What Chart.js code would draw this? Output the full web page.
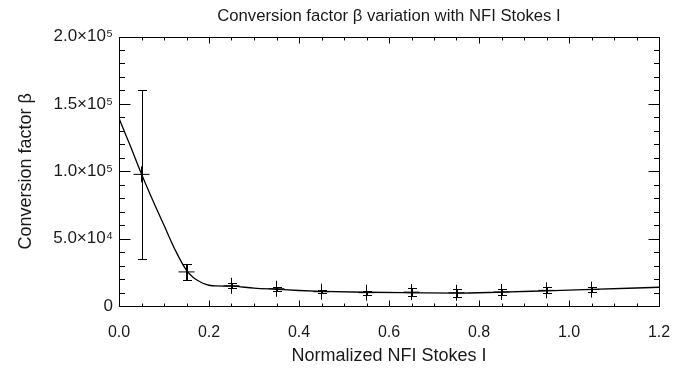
<!DOCTYPE html>
<html>
<head>
<meta charset="utf-8">
<script src="https://cdn.jsdelivr.net/npm/chart.js@4.4.1/dist/chart.umd.min.js"></script>
<style>
html, body { margin: 0; padding: 0; background: #fff; }
</style>
</head>
<body>
<canvas id="myChart" width="699" height="368"></canvas>
<script>
// measured points (normalized NFI Stokes I, beta, error)
var xPoints = [0.05, 0.15, 0.25, 0.35, 0.45, 0.55, 0.65, 0.75, 0.85, 0.95, 1.05];
var betaValues = [97700, 25300, 15000, 12800, 10600, 9900, 10300, 9800, 10400, 11600, 12200];
var betaErrors = [62700, 5950, 1860, 1500, 1200, 1500, 2900, 2900, 2200, 2200, 2100];

// fitted curve
var curveX = [0.0, 0.025, 0.05, 0.075, 0.1, 0.125, 0.15, 0.165, 0.18, 0.19, 0.2, 0.215, 0.25, 0.3, 0.35, 0.4, 0.45, 0.55, 0.65, 0.75, 0.85, 0.95, 1.05, 1.2];
var curveY = [139300, 119000, 98000, 78500, 60000, 41500, 26500, 21200, 18000, 16400, 15400, 14900, 14700, 13300, 12400, 11500, 10900, 10200, 9800, 9500, 10300, 11300, 12300, 13900];

var xMajorTicks = [0.0, 0.2, 0.4, 0.6, 0.8, 1.0, 1.2];
var yMajorTicks = [0, 50000, 100000, 150000, 200000];

var font = "'Liberation Sans', Arial, Helvetica, sans-serif";
var ink = '#1a1a1a';
var sup = ['\u2070','\u00b9','\u00b2','\u00b3','\u2074','\u2075','\u2076','\u2077','\u2078','\u2079'];

function isMajor(v, list){
    for (var i = 0; i < list.length; i++) {
        if (Math.abs(v - list[i]) < 1e-6 * Math.max(1, Math.abs(list[i]))) return true;
    }
    return false;
}

function sciLabel(v){
    if (v === 0) return '0';
    var e = Math.floor(Math.log10(v) + 1e-9);
    var m = v / Math.pow(10, e);
    return m.toFixed(1) + '\u00d710' + sup[e];
}

var points = xPoints.map(function(x, i){ return {x: x, y: betaValues[i]}; });
var curve = curveX.map(function(x, i){ return {x: x, y: curveY[i]}; });

var capHalf = 4.5;

var errorBars = {
    id: 'errorBars',
    afterDatasetsDraw: function(chart){
        var xs = chart.scales.x, ys = chart.scales.y, c = chart.ctx;
        c.save();
        c.strokeStyle = '#000';
        c.lineWidth = 1;
        xPoints.forEach(function(v, i){
            var px = Math.round(xs.getPixelForValue(v)) + 0.5;
            var top = Math.round(ys.getPixelForValue(betaValues[i] + betaErrors[i])) + 0.5;
            var bot = Math.round(ys.getPixelForValue(betaValues[i] - betaErrors[i])) + 0.5;
            c.beginPath();
            c.moveTo(px, top); c.lineTo(px, bot);
            c.moveTo(px - capHalf, top); c.lineTo(px + capHalf, top);
            c.moveTo(px - capHalf, bot); c.lineTo(px + capHalf, bot);
            c.stroke();
        });
        c.restore();
    }
};

// box round the plot with inward ticks on all four sides
var frame = {
    id: 'frame',
    afterDraw: function(chart){
        var a = chart.chartArea, c = chart.ctx;
        var l = Math.round(a.left) + 0.5, r = Math.round(a.right) + 0.5;
        var t = Math.round(a.top) + 0.5, b = Math.round(a.bottom) + 0.5;
        c.save();
        c.strokeStyle = '#000';
        c.lineWidth = 1;
        c.beginPath();
        c.rect(l, t, r - l, b - t);
        chart.scales.x.ticks.forEach(function(tk){
            var px = Math.round(chart.scales.x.getPixelForValue(tk.value)) + 0.5;
            var len = isMajor(tk.value, xMajorTicks) ? 6 : 3;
            c.moveTo(px, b); c.lineTo(px, b - len);
            c.moveTo(px, t); c.lineTo(px, t + len);
        });
        chart.scales.y.ticks.forEach(function(tk){
            var py = Math.round(chart.scales.y.getPixelForValue(tk.value)) + 0.5;
            var len = isMajor(tk.value, yMajorTicks) ? 11 : 5.5;
            c.moveTo(l, py); c.lineTo(l + len, py);
            c.moveTo(r, py); c.lineTo(r - len, py);
        });
        c.stroke();
        c.restore();
    }
};

var ctx = document.getElementById("myChart").getContext('2d');
var myChart = new Chart(ctx, {
    type: 'scatter',
    data: {
        datasets: [{
            type: 'line',
            data: curve,
            borderColor: '#000',
            borderWidth: 1.3,
            pointRadius: 0,
            fill: false,
            cubicInterpolationMode: 'monotone'
        }, {
            type: 'scatter',
            data: points,
            pointStyle: 'cross',
            pointRadius: 8,
            borderColor: '#000',
            backgroundColor: '#000',
            borderWidth: 1
        }]
    },
    options: {
        responsive: false,
        animation: false,
        layout: { padding: { left: 0, right: 40, top: 0, bottom: 0 } },
        plugins: {
            legend: { display: false },
            tooltip: { enabled: false },
            title: {
                display: true,
                fullSize: false,
                text: 'Conversion factor \u03b2 variation with NFI Stokes I',
                color: ink,
                font: { family: font, size: 16.7, weight: 'normal' },
                padding: { top: 6.5, bottom: 10 }
            }
        },
        scales: {
            x: {
                type: 'linear',
                min: 0,
                max: 1.2,
                grid: { display: false, drawTicks: false },
                border: { display: false },
                ticks: {
                    stepSize: 0.05,
                    autoSkip: false,
                    maxRotation: 0,
                    padding: 17,
                    color: ink,
                    font: { family: font, size: 16 },
                    callback: function(v){ return isMajor(v, xMajorTicks) ? v.toFixed(1) : ''; }
                },
                title: {
                    display: true,
                    text: 'Normalized NFI Stokes I',
                    color: ink,
                    font: { family: font, size: 18 },
                    padding: { top: 0, bottom: 1 }
                },
                afterFit: function(s){ s.height = 62; }
            },
            y: {
                type: 'linear',
                min: 0,
                max: 200000,
                grid: { display: false, drawTicks: false },
                border: { display: false },
                ticks: {
                    stepSize: 10000,
                    maxTicksLimit: 100,
                    autoSkip: false,
                    padding: 6,
                    color: ink,
                    font: { family: font, size: 17 },
                    callback: function(v){ return isMajor(v, yMajorTicks) ? sciLabel(v) : ''; }
                },
                title: {
                    display: true,
                    text: 'Conversion factor \u03b2',
                    color: ink,
                    font: { family: font, size: 18 },
                    padding: { top: 15, bottom: 0 }
                },
                afterFit: function(s){ s.width = 119; }
            }
        }
    },
    plugins: [errorBars, frame]
});
</script>
</body>
</html>
